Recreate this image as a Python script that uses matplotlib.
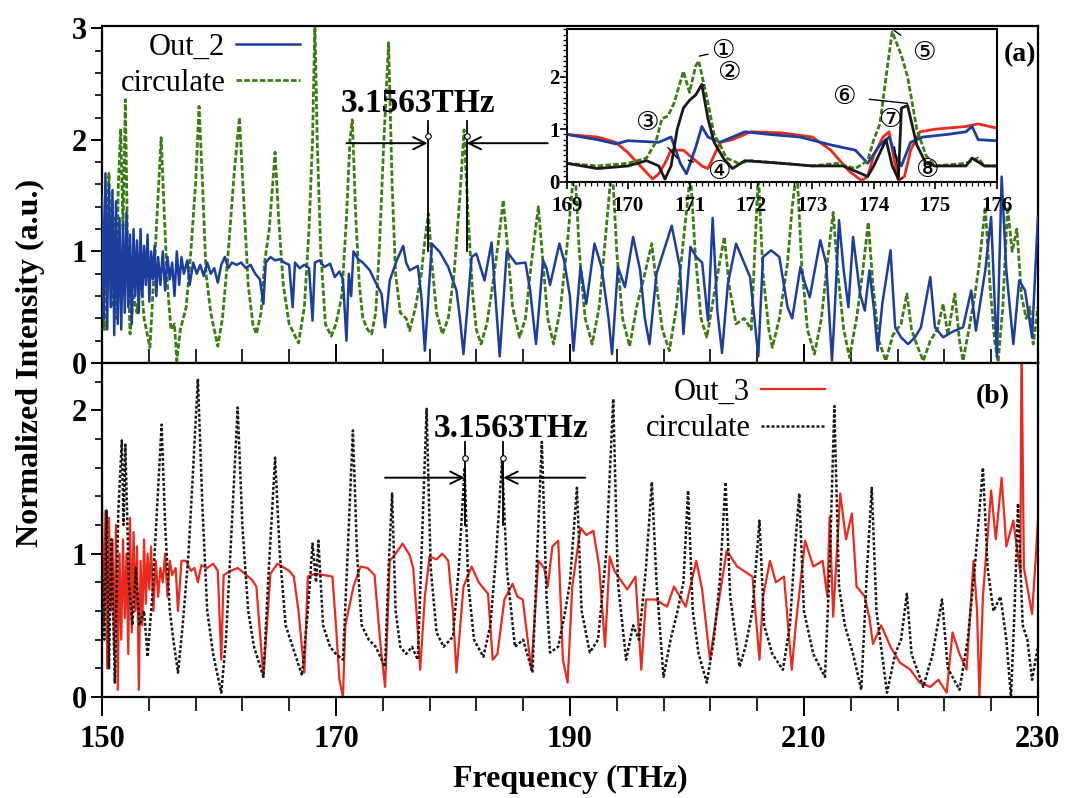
import numpy as np
import matplotlib
matplotlib.use("Agg")
import matplotlib.pyplot as plt
from matplotlib.ticker import MultipleLocator, FixedLocator

plt.rcParams['font.family'] = ['Liberation Serif', 'DejaVu Sans']
plt.rcParams['font.weight'] = 'bold'

# -----------------------------
# Daten
# -----------------------------
# Panel (a): Out_2 (blau)
out2_f = [150.0, 150.15, 150.3, 150.45, 150.6, 150.75, 150.9, 151.05, 151.2, 151.35, 151.5, 151.65,
          151.8, 151.95, 152.1, 152.25, 152.4, 152.55, 152.7, 152.85, 153.0, 153.15, 153.3, 153.45,
          153.6, 153.75, 153.9, 154.05, 154.2, 154.35, 154.5, 154.65, 154.8, 155.0, 155.2, 155.4,
          155.6, 155.8, 156.0, 156.2, 156.4, 156.6, 156.8, 157.0, 157.3, 157.5, 157.8, 158.1,
          158.4, 158.7, 159.0, 159.3, 159.6, 159.9, 160.2, 160.5, 160.8, 161.1, 161.5, 161.9,
          162.3, 162.7, 163.1, 163.5, 163.8, 164.0, 164.4, 164.8, 165.2, 165.6, 166.0, 166.3,
          166.5, 166.9, 167.3, 167.7, 168.0, 168.2, 168.6, 169.0, 169.5, 169.9, 170.3, 170.6,
          170.9, 171.1, 171.3, 171.5, 171.9, 172.3, 172.9, 173.4, 173.9, 174.2, 174.6, 175.2,
          175.75, 176.0, 176.3, 177.0, 177.3, 177.6, 178.2, 178.9, 179.6, 180.3, 180.6, 180.9,
          181.6, 182.0, 182.7, 183.3, 183.7, 184.0, 184.6, 185.4, 186.2, 186.6, 187.1, 187.7,
          188.0, 188.3, 189.1, 189.5, 190.0, 190.3, 190.9, 191.4, 192.1, 192.7, 193.3, 193.6,
          194.1, 194.7, 195.4, 196.0, 196.4, 196.8, 197.4, 198.7, 199.4, 199.7, 200.3, 200.8,
          201.3, 201.8, 202.2, 202.6, 203.0, 203.5, 204.2, 204.8, 205.4, 206.1, 206.5, 207.2,
          207.9, 208.6, 209.0, 209.7, 210.1, 210.5, 211.4, 211.9, 212.4, 212.6, 213.0, 213.4,
          213.8, 214.2, 214.8, 215.2, 215.6, 216.0, 216.3, 216.7, 217.4, 217.8, 218.3, 218.9,
          219.5, 220.0, 220.8, 221.2, 221.9, 222.7, 223.6, 224.3, 224.7, 225.5, 226.0, 226.5,
          226.9, 227.3, 227.9, 228.4, 228.9, 229.5, 230.0]
out2_v = [1.5, 0.4, 1.7, 0.3, 1.6, 0.5, 1.55, 0.25, 1.45, 0.35, 1.3, 0.3,
          1.25, 0.45, 1.35, 0.5, 1.15, 0.35, 1.2, 0.6, 1.1, 0.45, 1.2, 0.6,
          1.05, 0.7, 1.15, 0.55, 1.0, 0.75, 1.05, 0.6, 0.95, 0.7, 1.0, 0.65,
          0.95, 0.75, 0.9, 0.6, 1.0, 0.7, 0.95, 0.8, 0.92, 0.7, 0.9, 0.8,
          0.88, 0.78, 0.9, 0.8, 0.85, 0.72, 0.88, 0.95, 0.85, 0.9, 0.88, 0.9,
          0.85, 0.88, 0.8, 0.75, 0.53, 0.9, 0.95, 0.92, 0.93, 0.9, 0.88, 0.5,
          0.9, 0.85, 0.88, 0.85, 0.38, 0.9, 0.92, 0.86, 0.89, 0.77, 0.82, 0.75,
          0.2, 0.8, 0.6, 1.0, 0.93, 0.9, 0.83, 0.72, 0.62, 0.32, 0.74, 0.92,
          1.05, 0.9, 0.83, 0.87, 0.6, 0.11, 1.07, 0.99, 0.86, 0.65, 0.4, 0.08,
          0.95, 0.98, 0.74, 1.08, 0.5, 0.06, 1.0, 0.89, 0.9, 0.65, 0.17, 0.92,
          0.85, 0.7, 1.07, 0.92, 0.6, 0.11, 0.86, 0.53, 1.07, 0.86, 0.4, 0.08,
          0.86, 0.68, 1.13, 0.83, 0.4, 0.17, 0.8, 1.23, 0.86, 0.26, 1.04, 0.95,
          0.9, 0.38, 1.3, 0.47, 0.09, 0.71, 1.07, 0.92, 0.77, 0.06, 0.95, 1.01,
          0.95, 0.5, 0.4, 0.86, 0.71, 0.59, 1.1, 0.89, 0.02, 0.4, 1.28, 0.83,
          0.5, 1.13, 0.62, 0.47, 0.83, 0.47, 0.11, 0.53, 1.01, 0.32, 0.23, 0.17,
          0.23, 0.32, 0.77, 0.32, 0.23, 0.28, 0.32, 0.65, 0.29, 0.83, 1.31, 0.05,
          1.67, 0.83, 0.17, 0.74, 0.65, 0.23, 1.31]

# Panel (a): circulate (gruen, gestrichelt)
circ2_f = [150.0, 150.2, 150.4, 150.6, 150.8, 151.0, 151.2, 151.4, 151.6, 151.8, 152.0, 152.2,
           152.4, 152.7, 153.0, 153.3, 153.6, 154.1, 154.5, 154.8, 155.06, 155.3, 155.6, 155.9,
           156.2, 156.4, 156.7, 157.2, 157.6, 158.0, 158.3, 158.6, 158.9, 159.3, 159.9, 160.3,
           160.8, 161.3, 161.75, 162.1, 162.5, 162.9, 163.2, 163.6, 163.9, 164.3, 164.8, 165.1,
           165.5, 166.0, 166.8, 167.3, 167.7, 168.0, 168.2, 168.4, 168.7, 169.1, 169.6, 170.0,
           170.5, 170.9, 171.2, 171.4, 171.7, 172.0, 172.3, 172.7, 173.05, 173.4, 173.7, 174.1,
           174.5, 174.8, 175.1, 175.5, 176.0, 176.3, 176.8, 177.3, 177.6, 177.9, 178.2, 178.6,
           179.1, 179.6, 180.1, 180.6, 180.95, 181.3, 181.7, 182.0, 182.4, 182.9, 183.4, 183.9,
           184.3, 184.7, 185.1, 185.7, 186.2, 186.7, 187.3, 187.7, 188.1, 188.6, 189.2, 189.8,
           190.4, 190.8, 191.3, 191.9, 192.5, 193.1, 193.6, 194.0, 194.5, 195.1, 195.7, 196.4,
           197.0, 197.4, 197.9, 198.5, 199.1, 199.8, 200.3, 200.7, 201.2, 201.7, 202.3, 202.8,
           203.2, 203.6, 204.2, 204.9, 205.5, 205.8, 206.1, 206.5, 207.0, 207.3, 207.9, 208.6,
           209.0, 209.4, 209.8, 210.3, 210.9, 211.5, 212.0, 212.5, 212.9, 213.4, 213.9, 214.5,
           215.0, 215.5, 215.9, 216.4, 217.0, 217.6, 218.3, 218.8, 219.2, 219.7, 220.2, 220.8,
           221.4, 221.9, 222.3, 222.9, 223.3, 223.6, 224.1, 224.6, 225.0, 225.5, 225.9, 226.3,
           226.6, 227.0, 227.4, 227.8, 228.2, 228.6, 229.0, 229.3, 229.6, 230.0]
circ2_v = [0.9, 0.3, 1.2, 1.7, 0.5, 1.3, 0.4, 1.6, 2.1, 1.2, 2.36, 1.0,
           0.26, 0.6, 0.45, 0.8, 0.4, 0.14, 0.9, 1.5, 2.02, 1.4, 0.7, 0.3,
           0.35, 0.02, 0.3, 0.5, 1.0, 1.6, 2.3, 1.6, 0.8, 0.45, 0.15, 0.4,
           1.0, 1.7, 2.2, 1.5, 0.7, 0.35, 0.26, 0.45, 0.9, 1.2, 1.89, 1.3,
           0.7, 0.35, 0.18, 0.5, 1.2, 2.0, 3.05, 2.0, 1.0, 0.35, 0.24, 0.35,
           0.6, 1.3, 2.0, 2.18, 1.3, 0.7, 0.4, 0.3, 0.26, 0.45, 1.0, 2.0,
           2.87, 1.6, 0.8, 0.45, 0.4, 0.29, 0.5, 0.8, 1.1, 1.34, 0.9, 0.45,
           0.26, 0.4, 0.8, 1.5, 2.09, 1.3, 0.6, 0.3, 0.17, 0.35, 0.7, 1.1,
           1.46, 1.0, 0.5, 0.23, 0.4, 0.9, 1.4, 0.9, 0.4, 0.17, 0.5, 1.1,
           1.8, 1.0, 0.4, 0.17, 0.5, 1.2, 1.8, 1.0, 0.4, 0.15, 0.5, 0.8,
           1.07, 0.7, 0.3, 0.11, 0.5, 1.2, 1.7, 1.0, 0.4, 0.23, 0.6, 0.9,
           1.13, 0.7, 0.35, 0.4, 0.3, 1.0, 1.7, 0.8, 0.3, 0.14, 0.4, 0.9,
           1.4, 1.75, 0.9, 0.3, 0.08, 0.4, 0.9, 1.35, 0.8, 0.3, 0.05, 0.4,
           0.8, 1.26, 0.7, 0.2, 0.02, 0.25, 0.35, 0.62, 0.3, 0.15, 0.02, 0.2,
           0.3, 0.53, 0.25, 0.62, 0.2, 0.02, 0.3, 0.6, 0.9, 1.4, 0.7, 0.2,
           0.01, 0.5, 1.4, 1.0, 1.2, 0.6, 0.4, 0.5, 0.17, 0.5]

# Panel (b): Out_3 (rot)
out3_f = [150.0, 150.15, 150.3, 150.45, 150.6, 150.75, 150.9, 151.05, 151.2, 151.35, 151.5, 151.65,
          151.8, 151.95, 152.1, 152.25, 152.4, 152.55, 152.7, 152.85, 153.0, 153.15, 153.3, 153.45,
          153.6, 153.75, 153.9, 154.05, 154.2, 154.4, 154.6, 154.8, 155.0, 155.2, 155.4, 155.6,
          155.8, 156.0, 156.3, 156.5, 156.8, 157.2, 157.6, 157.9, 158.2, 158.5, 159.0, 159.5,
          159.9, 160.2, 160.4, 161.0, 161.6, 162.2, 162.8, 163.2, 163.8, 164.4, 165.0, 165.6,
          166.0, 166.4, 166.8, 167.3, 167.6, 168.2, 169.0, 169.7, 170.0, 170.3, 170.6, 170.8,
          171.5, 172.1, 172.7, 173.3, 173.8, 174.2, 174.6, 175.1, 175.7, 176.3, 176.6, 176.9,
          177.2, 177.6, 178.0, 178.6, 179.1, 179.6, 180.0, 180.3, 180.9, 181.6, 182.2, 183.0,
          183.4, 183.8, 184.4, 185.1, 185.5, 185.97, 186.7, 187.3, 187.8, 188.1, 188.5, 189.0,
          189.4, 189.8, 190.2, 190.9, 191.4, 192.0, 192.5, 193.0, 193.4, 193.8, 194.3, 194.9,
          195.6, 196.1, 196.5, 197.3, 198.3, 198.9, 199.4, 199.9, 200.8, 201.3, 201.97, 202.4,
          203.4, 204.3, 205.6, 206.2, 206.5, 207.1, 207.6, 208.3, 208.96, 209.3, 210.1, 210.8,
          211.6, 212.0, 212.2, 212.5, 213.1, 213.6, 214.1, 214.5, 215.2, 215.6, 215.9, 216.6,
          217.4, 218.2, 219.1, 219.9, 220.8, 221.5, 222.2, 222.7, 223.3, 223.9, 224.5, 224.8,
          225.0, 225.3, 226.0, 226.4, 226.9, 227.3, 227.9, 228.5, 228.6, 228.8, 229.5, 229.8,
          230.0]
out3_v = [1.42, 0.5, 1.3, 0.2, 1.25, 0.6, 1.1, 0.3, 1.2, 0.05, 1.0, 0.4,
          1.1, 0.55, 1.0, 0.3, 1.25, 0.45, 1.15, 0.6, 1.05, 0.05, 0.95, 0.5,
          1.1, 0.65, 1.0, 0.75, 1.05, 0.6, 0.95, 0.7, 0.9, 0.8, 1.0, 0.7,
          0.95, 0.85, 0.9, 0.6, 0.95, 0.95, 0.88, 0.9, 0.8, 0.92, 0.9, 0.93,
          0.88, 0.26, 0.85, 0.88, 0.9, 0.86, 0.82, 0.77, 0.14, 0.86, 0.93, 0.9,
          0.88, 0.84, 0.6, 0.17, 0.84, 0.86, 0.85, 0.84, 0.5, 0.12, 0.0, 0.5,
          0.77, 0.91, 0.9, 0.85, 0.37, 0.07, 0.95, 1.0, 1.07, 0.99, 0.9, 0.58,
          0.19, 0.7, 0.98, 0.96, 1.0, 0.95, 0.6, 0.17, 0.77, 0.91, 0.8, 0.72,
          0.26, 0.3, 0.68, 0.79, 0.7, 0.68, 0.19, 0.95, 0.9, 0.77, 1.05, 1.09,
          0.26, 0.1, 0.77, 1.18, 1.13, 1.16, 0.91, 0.35, 0.98, 0.88, 0.82, 0.75,
          0.84, 0.19, 0.68, 0.68, 0.63, 0.77, 0.7, 0.63, 0.95, 0.75, 0.26, 0.5,
          1.02, 0.91, 0.84, 0.26, 0.7, 0.95, 0.8, 0.84, 0.19, 0.5, 1.09, 0.91,
          0.95, 0.7, 1.26, 0.56, 1.42, 1.1, 1.28, 0.77, 0.7, 0.55, 0.37, 0.5,
          0.35, 0.24, 0.19, 0.1, 0.07, 0.12, 0.03, 0.45, 0.3, 0.19, 0.95, 0.6,
          0.0, 0.7, 1.44, 1.1, 1.53, 1.05, 1.23, 0.86, 2.5, 0.9, 0.58, 0.95,
          1.23]

# Panel (b): circulate (schwarz, gepunktet)
circ3_f = [150.0, 150.2, 150.4, 150.6, 150.8, 151.1, 151.4, 151.7, 151.85, 152.0, 152.3, 152.6,
           152.9, 153.2, 153.6, 153.9, 154.3, 154.7, 155.1, 155.4, 155.8, 156.1, 156.5, 156.9,
           157.4, 157.8, 158.2, 158.6, 159.0, 159.5, 160.2, 160.6, 161.1, 161.6, 162.0, 162.5,
           163.0, 163.8, 164.2, 164.8, 165.2, 165.7, 166.3, 167.1, 167.6, 168.0, 168.3, 168.5,
           168.9, 169.5, 170.0, 170.6, 171.0, 171.45, 171.8, 172.2, 172.8, 173.4, 174.2, 174.5,
           174.8, 175.1, 175.5, 176.0, 176.5, 177.0, 177.4, 177.75, 178.1, 178.6, 179.2, 180.0,
           180.5, 181.0, 181.3, 181.8, 182.6, 183.2, 183.7, 184.2, 184.6, 185.3, 186.0, 186.8,
           187.2, 187.6, 188.0, 188.3, 189.0, 189.6, 190.0, 190.6, 191.0, 191.7, 192.4, 193.1,
           193.7, 194.1, 194.8, 195.4, 195.9, 196.5, 197.0, 197.4, 198.0, 198.6, 199.2, 199.7,
           200.1, 200.5, 201.0, 201.7, 202.3, 202.8, 203.3, 203.7, 204.5, 205.0, 205.6, 206.2,
           206.6, 207.3, 208.2, 208.8, 209.2, 209.6, 210.0, 210.8, 211.8, 212.2, 212.6, 213.0,
           213.5, 214.2, 214.9, 215.4, 215.8, 216.2, 217.1, 217.8, 218.3, 218.8, 219.2, 220.2,
           221.0, 221.8, 222.3, 223.3, 224.0, 224.6, 225.3, 225.7, 226.2, 226.8, 227.3, 227.7,
           228.0, 228.3, 228.7, 229.1, 229.5, 230.0]
circ3_v = [1.0, 0.4, 1.3, 0.2, 1.1, 0.1, 1.3, 1.79, 1.2, 1.76, 0.8, 0.5,
           0.9, 0.5, 0.6, 0.28, 0.7, 1.3, 1.9, 1.2, 0.6, 0.4, 0.17, 0.5,
           1.0, 1.6, 2.22, 1.3, 0.6, 0.3, 0.03, 0.4, 1.2, 2.02, 1.2, 0.6,
           0.35, 0.14, 0.8, 1.67, 1.0, 0.5, 0.35, 0.15, 0.6, 1.07, 0.8, 1.09,
           0.5, 0.35, 0.3, 0.26, 1.0, 1.86, 1.0, 0.5, 0.4, 0.35, 0.21, 0.9,
           1.42, 0.6, 0.35, 0.3, 0.35, 0.26, 1.2, 2.01, 0.9, 0.45, 0.35, 0.42,
           0.9, 1.6, 0.8, 0.4, 0.28, 0.5, 1.0, 1.65, 0.9, 0.35, 0.4, 0.17,
           1.0, 1.78, 0.7, 0.31, 0.35, 0.6, 0.8, 1.46, 0.6, 0.31, 0.4, 1.0,
           2.08, 0.8, 0.26, 0.5, 0.4, 0.9, 1.5, 0.8, 0.14, 0.4, 0.6, 0.8,
           1.44, 0.6, 0.3, 0.1, 0.4, 0.8, 1.5, 0.7, 0.21, 0.35, 0.6, 1.23,
           0.5, 0.3, 0.19, 0.5, 1.0, 1.42, 0.6, 0.3, 0.14, 0.9, 2.03, 0.77,
           0.5, 0.3, 0.05, 0.9, 1.46, 0.6, 0.03, 0.3, 0.4, 0.72, 0.3, 0.07,
           0.3, 0.68, 0.2, 0.05, 0.4, 0.9, 1.6, 0.9, 0.6, 0.7, 0.4, 0.0,
           0.6, 1.35, 0.5, 0.4, 0.12, 0.35]

# Inset (169-176 THz)
ins_red_f = [169.0, 169.5, 169.8, 170.0, 170.2, 170.4, 170.5, 170.6, 170.7, 170.9, 171.0, 171.2,
             171.3, 171.4, 171.5, 171.7, 172.0, 172.5, 173.0, 173.3, 173.6, 173.8, 173.9, 174.0,
             174.15, 174.25, 174.35, 174.4, 174.5, 174.6, 174.75, 175.0, 175.5, 175.7, 176.0]
ins_red_v = [0.9, 0.85, 0.75, 0.55, 0.3, 0.05, 0.15, 0.35, 0.6, 0.6, 0.5, 0.3,
             0.25, 0.5, 0.75, 0.8, 0.95, 0.93, 0.85, 0.6, 0.2, 0.02, 0.1, 0.5,
             0.85, 0.95, 0.3, 0.02, 0.1, 0.6, 0.95, 1.0, 1.05, 1.1, 1.02]
ins_blue_f = [169.0, 169.5, 169.8, 170.0, 170.5, 170.7, 170.85, 170.95, 171.1, 171.2, 171.3, 171.5,
              171.7, 171.9, 172.3, 172.8, 173.3, 173.7, 173.9, 174.1, 174.25, 174.35, 174.45, 174.6,
              174.8, 175.2, 175.5, 175.6, 175.7, 176.0]
ins_blue_v = [0.9, 0.8, 0.72, 0.78, 0.75, 0.85, 0.35, 0.15, 0.65, 1.05, 0.85, 0.75,
              0.85, 0.95, 0.9, 0.85, 0.7, 0.6, 0.35, 0.7, 0.85, 0.5, 0.3, 0.75,
              0.85, 0.9, 0.95, 1.05, 0.8, 0.78]
ins_green_f = [169.0, 169.5, 170.0, 170.3, 170.45, 170.55, 170.65, 170.75, 170.9, 171.0, 171.1, 171.15,
               171.3, 171.4, 171.5, 171.6, 171.8, 172.0, 172.5, 173.0, 173.4, 173.7, 173.9, 174.0,
               174.1, 174.2, 174.3, 174.45, 174.55, 174.7, 174.85, 175.0, 175.5, 175.7, 175.8, 176.0]
ins_green_v = [0.35, 0.3, 0.35, 0.45, 0.75, 1.2, 1.25, 1.5, 2.1, 1.7, 2.2, 2.3,
               1.5, 0.9, 0.7, 0.45, 0.35, 0.4, 0.35, 0.3, 0.35, 0.25, 0.4, 0.8,
               1.1, 2.0, 2.85, 2.4, 2.0, 1.0, 0.5, 0.3, 0.35, 0.45, 0.3, 0.3]
ins_black_f = [169.0, 169.5, 170.0, 170.3, 170.5, 170.6, 170.7, 170.8, 170.9, 171.0, 171.1, 171.2,
               171.3, 171.4, 171.55, 171.7, 171.9, 172.5, 173.0, 173.5, 173.7, 173.9, 174.0, 174.2,
               174.3, 174.4, 174.45, 174.55, 174.7, 174.85, 175.0, 175.5, 175.6, 175.8, 176.0]
ins_black_v = [0.35, 0.25, 0.3, 0.4, 0.3, 0.05, 0.3, 1.0, 1.4, 1.55, 1.65, 1.85,
               1.2, 0.75, 0.45, 0.25, 0.4, 0.35, 0.3, 0.3, 0.2, 0.1, 0.3, 0.8,
               0.3, 0.05, 1.4, 1.45, 0.7, 0.35, 0.3, 0.3, 0.45, 0.3, 0.3]

# Markierungen im Inset: Label, Punkt, Textposition
circ_labels = ["\u2460", "\u2461", "\u2462", "\u2463", "\u2464", "\u2465", "\u2466", "\u2467"]
circ_pts = [(171.16, 2.39), (171.23, 1.84), (170.8, 0.45), (170.98, 0.41),
            (174.33, 2.88), (174.55, 1.49), (174.41, 0.1), (174.44, 0.06)]
circ_txt = [(171.54, 2.49), (171.64, 2.06), (170.3, 1.11), (171.47, 0.19),
            (174.82, 2.45), (173.51, 1.62), (174.27, 1.17), (174.87, 0.22)]

# 3.1563 THz Abstandsmarker
mark_a = [177.83, 181.17]
mark_b = [181.0, 184.3]

# Achsenticks
x_major = [150, 170, 190, 210, 230]
x_minor = list(range(150, 231, 4))

BLUE = "#1c3f9e"
GREEN = "#3b7d12"
RED = "#ea2a1c"
BLACK = "#1a1a1a"

# -----------------------------
# Figure + Layout
# -----------------------------
fig = plt.figure(figsize=(10.72, 7.98), dpi=100)
ax1 = fig.add_axes([0.0951, 0.5451, 0.8731, 0.4223])
ax2 = fig.add_axes([0.0951, 0.1266, 0.8731, 0.4185], sharex=ax1)

# Panel (a)
l_c2, = ax1.plot(circ2_f, circ2_v, color=GREEN, lw=2.0, ls=(0, (2, 0.8)), label="circulate", zorder=2)
l_o2, = ax1.plot(out2_f, out2_v, color=BLUE, lw=1.8, label="Out_2", zorder=3)
ax1.set_ylim(0, 3.02)

# Panel (b)
l_o3, = ax2.plot(out3_f, out3_v, color=RED, lw=1.6, label="Out_3", zorder=2)
l_c3, = ax2.plot(circ3_f, circ3_v, color=BLACK, lw=1.8, ls=(0, (1.2, 0.8)), label="circulate", zorder=3)
ax2.set_ylim(0, 2.33)
ax2.set_xlim(150, 230)

for ax in (ax1, ax2):
    for s in ax.spines.values():
        s.set_linewidth(1.6)
    ax.yaxis.set_major_locator(MultipleLocator(1))
    ax.yaxis.set_minor_locator(MultipleLocator(0.2))
    ax.tick_params(axis="y", which="major", direction="out", length=8, width=1.4,
                   labelsize=22, pad=3)
    ax.tick_params(axis="y", which="minor", direction="out", length=5, width=1.2)
    ax.xaxis.set_major_locator(FixedLocator(x_major))
    ax.xaxis.set_minor_locator(FixedLocator(x_minor))

ax1.tick_params(axis="x", which="major", direction="inout", length=28, width=1.4, labelbottom=False)
ax1.tick_params(axis="x", which="minor", direction="inout", length=20, width=1.2)
ax2.tick_params(axis="x", which="major", direction="out", length=14, width=1.4, labelsize=22, pad=6)
ax2.tick_params(axis="x", which="minor", direction="out", length=10, width=1.2)

ax2.set_xlabel("Frequency (THz)", fontsize=23, fontweight="bold", labelpad=8)
fig.text(0.028, 0.545, "Normalized Intensity (a.u.)", rotation=90, fontsize=23,
         fontweight="bold", ha="center", va="center")

# Legenden
ax1.legend([l_o2, l_c2], ["Out_2", "circulate"], loc="upper right", bbox_to_anchor=(0.215, 0.99),
           frameon=False, markerfirst=False, handlelength=2.1, handletextpad=0.35, labelspacing=0.25,
           borderpad=0.1, borderaxespad=0, prop={"size": 22, "weight": "normal"})
ax2.legend([l_o3, l_c3], ["Out_3", "circulate"], loc="upper right", bbox_to_anchor=(0.776, 0.965),
           frameon=False, markerfirst=False, handlelength=2.1, handletextpad=0.35, labelspacing=0.25,
           borderpad=0.1, borderaxespad=0, prop={"size": 22, "weight": "normal"})

ax1.text(0.981, 0.915, "(a)", transform=ax1.transAxes, ha="center", va="center", fontsize=20, fontweight="bold")
ax2.text(0.952, 0.90, "(b)", transform=ax2.transAxes, ha="center", va="center", fontsize=20, fontweight="bold")

# 3.1563THz Marker
ax1.text(177.0, 2.33, "3.1563THz", ha="center", va="center", fontsize=24, fontweight="bold")
for xm in mark_a:
    ax1.plot([xm, xm], [1.0, 2.17], color="k", lw=1.3, zorder=4)
    ax1.plot(xm, 2.03, marker="o", ms=4, mfc="white", mec="k", mew=0.8, zorder=5)
ax1.annotate("", xy=(mark_a[0], 1.97), xytext=(170.9, 1.97),
             arrowprops=dict(arrowstyle="->", lw=1.4, color="k", mutation_scale=22, shrinkA=0, shrinkB=0))
ax1.annotate("", xy=(mark_a[1], 1.97), xytext=(188.1, 1.97),
             arrowprops=dict(arrowstyle="->", lw=1.4, color="k", mutation_scale=22, shrinkA=0, shrinkB=0))

ax2.text(185.0, 1.87, "3.1563THz", ha="center", va="center", fontsize=24, fontweight="bold")
for xm in mark_b:
    ax2.plot([xm, xm], [1.2, 1.78], color="k", lw=1.3, zorder=4)
    ax2.plot(xm, 1.67, marker="o", ms=4, mfc="white", mec="k", mew=0.8, zorder=5)
ax2.annotate("", xy=(mark_b[0], 1.53), xytext=(174.2, 1.53),
             arrowprops=dict(arrowstyle="->", lw=1.4, color="k", mutation_scale=22, shrinkA=0, shrinkB=0))
ax2.annotate("", xy=(mark_b[1], 1.53), xytext=(191.3, 1.53),
             arrowprops=dict(arrowstyle="->", lw=1.4, color="k", mutation_scale=22, shrinkA=0, shrinkB=0))

# -----------------------------
# Inset
# -----------------------------
ax_in = fig.add_axes([0.5286, 0.7723, 0.4011, 0.191])
ax_in.set_facecolor("white")
ax_in.plot(ins_red_f, ins_red_v, color=RED, lw=2.0)
ax_in.plot(ins_blue_f, ins_blue_v, color=BLUE, lw=2.0)
ax_in.plot(ins_green_f, ins_green_v, color=GREEN, lw=2.0, ls=(0, (2, 0.8)))
ax_in.plot(ins_black_f, ins_black_v, color=BLACK, lw=2.0)
ax_in.set_xlim(169, 176)
ax_in.set_ylim(0, 2.9)
for s in ax_in.spines.values():
    s.set_linewidth(1.5)
ax_in.xaxis.set_major_locator(MultipleLocator(1))
ax_in.xaxis.set_minor_locator(MultipleLocator(0.1))
ax_in.yaxis.set_major_locator(MultipleLocator(1))
ax_in.yaxis.set_minor_locator(MultipleLocator(0.1))
ax_in.tick_params(which="major", direction="out", length=5, width=1.2, labelsize=15)
ax_in.tick_params(axis="x", which="major", pad=5)
ax_in.tick_params(axis="y", which="major", pad=0)
ax_in.tick_params(which="minor", direction="out", length=3, width=0.9)
for t in ax_in.get_yticklabels():
    t.set_verticalalignment("center_baseline")

for lab, pt, tp in zip(circ_labels, circ_pts, circ_txt):
    ax_in.annotate(lab, xy=pt, xytext=tp, ha="center", va="center", fontsize=19,
                   fontweight="normal", family="DejaVu Sans",
                   arrowprops=dict(arrowstyle="-", lw=1.0, color="k", shrinkA=8, shrinkB=0))

fig.savefig("out.png", dpi=100)
